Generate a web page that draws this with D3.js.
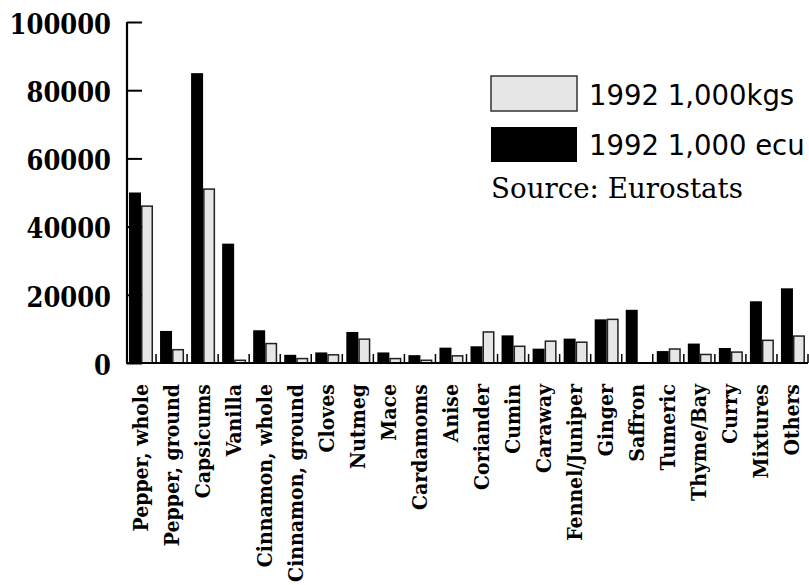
<!DOCTYPE html>
<html><head><meta charset="utf-8">
<script src="https://cdn.jsdelivr.net/npm/d3@7"></script>
<style>html,body{margin:0;padding:0;background:#fff;}</style>
</head><body>
<svg id="c" width="809" height="585"></svg>
<script>
const categories = ["Pepper, whole","Pepper, ground","Capsicums","Vanilla","Cinnamon, whole","Cinnamon, ground","Cloves","Nutmeg","Mace","Cardamoms","Anise","Coriander","Cumin","Caraway","Fennel/Juniper","Ginger","Saffron","Tumeric","Thyme/Bay","Curry","Mixtures","Others"];
const ecu = [50000,9400,85000,35000,9600,2400,3100,9100,3100,2300,4500,4900,8100,4200,7150,12800,15600,3500,5700,4400,18100,21900];
const kgs = [46000,3900,51000,800,5700,1300,2400,7000,1300,800,2100,9100,4900,6400,6100,12800,0,4100,2500,3200,6650,7900];
const seriesNames = ["1992 1,000 ecu","1992 1,000kgs"];
const yTicks = [0,20000,40000,60000,80000,100000];

const serifBold = "'DejaVu Serif Condensed','DejaVu Serif',serif";
const svg = d3.select("#c");
const y = d3.scaleLinear().domain([0,100000]).range([363,22]);
const x = d3.scaleBand().domain(categories).range([125,808]);
const x1 = d3.scaleBand().domain(seriesNames).range([4,28]);

// bars
const g = svg.append("g");
const groups = g.selectAll("g.grp").data(categories).join("g")
  .attr("transform", d => `translate(${x(d)},0)`);
groups.append("rect")
  .attr("x", x1(seriesNames[0])).attr("width", x1.bandwidth())
  .attr("y", (d,i) => y(ecu[i])).attr("height", (d,i) => y(0)-y(ecu[i]))
  .attr("fill","#000");
groups.filter((d,i)=>kgs[i]>0).append("rect")
  .attr("x", x1(seriesNames[1])+0.75).attr("width", x1.bandwidth()-1.5)
  .attr("y", d => y(kgs[categories.indexOf(d)])).attr("height", d => y(0)-y(kgs[categories.indexOf(d)]))
  .attr("fill","#e6e6e6").attr("stroke","#222").attr("stroke-width",1.5);

// separator ticks on baseline
svg.append("g").selectAll("line").data(categories).join("line")
  .attr("x1", d => x(d) + x.bandwidth())
  .attr("x2", d => x(d) + x.bandwidth())
  .attr("y1", y(0)).attr("y2", y(0)-9)
  .attr("stroke","#000").attr("stroke-width",1.5);

// baseline
svg.append("line").attr("x1",126).attr("x2",808).attr("y1",y(0)).attr("y2",y(0))
  .attr("stroke","#000").attr("stroke-width",2.2);

// y axis
const yAxis = d3.axisRight(y).tickValues(yTicks).tickSize(15).tickFormat("");
const ya = svg.append("g").attr("transform","translate(127,0)").call(yAxis);
ya.select(".domain").attr("stroke-width",2.2).attr("d", `M0,${y(100000)}V${y(0)}`);
ya.selectAll(".tick line").attr("stroke-width",2);
svg.append("g").selectAll("text").data(yTicks).join("text")
  .attr("x",111).attr("y", d => y(d) + 2).attr("dy","0.36em")
  .attr("text-anchor","end")
  .style("font-family",serifBold).style("font-weight","bold").style("font-size","27px")
  .text(d => d);

// category labels
svg.append("g").selectAll("text").data(categories).join("text")
  .attr("transform", d => `translate(${x(d)+x.bandwidth()/2+7},384) rotate(-90)`)
  .attr("text-anchor","end")
  .style("font-family",serifBold).style("font-weight","bold").style("font-size","21px")
  .text(d => d);

// legend
const leg = svg.append("g");
leg.append("rect").attr("x",491).attr("y",76).attr("width",86).attr("height",35)
  .attr("fill","#e6e6e6").attr("stroke","#333").attr("stroke-width",1.5);
leg.append("rect").attr("x",491).attr("y",127).attr("width",86).attr("height",35).attr("fill","#000");
leg.append("text").attr("x",589).attr("y",105).style("font-family","'DejaVu Sans',sans-serif")
  .style("font-size","27.5px").text(seriesNames[1]);
leg.append("text").attr("x",589).attr("y",155).style("font-family","'DejaVu Sans',sans-serif")
  .style("font-size","27.5px").text(seriesNames[0]);
leg.append("text").attr("x",491).attr("y",198).style("font-family","'DejaVu Serif',serif")
  .style("font-size","27.7px").text("Source: Eurostats");
</script>
</body></html>
